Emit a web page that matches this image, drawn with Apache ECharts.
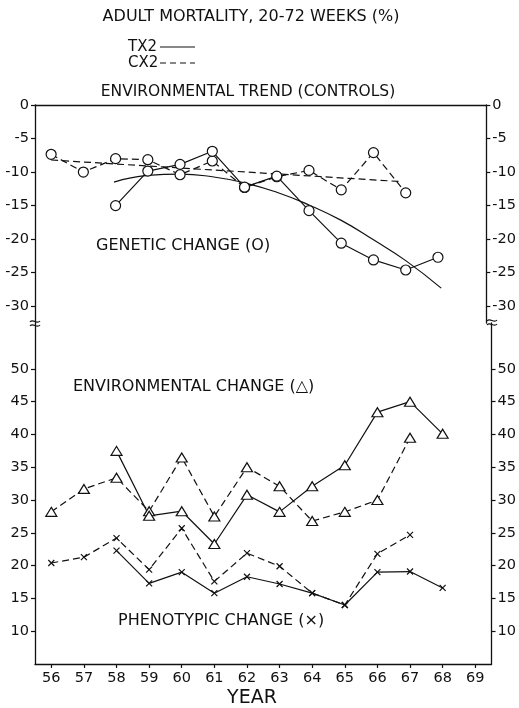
<!DOCTYPE html>
<html>
<head>
<meta charset="utf-8">
<script src="https://cdn.jsdelivr.net/npm/echarts@6/dist/echarts.min.js"></script>
<style>
  html, body { margin: 0; padding: 0; background: #fff; }
  #chart { width: 519px; height: 708px; }
</style>
</head>
<body>
<div id="chart"></div>
<script>
// years on the x axis (19xx)
var years = [56, 57, 58, 59, 60, 61, 62, 63, 64, 65, 66, 67, 68];
var yearTicks = [56, 57, 58, 59, 60, 61, 62, 63, 64, 65, 66, 67, 68, 69];

// genetic change (circles), upper panel
var genTX2 = [null, null, -15, -9.85, -8.85, -6.9, -12.25, -10.6, -15.75, -20.6, -23.1, -24.6, -22.7];
var genCX2 = [-7.35, -10, -8, -8.15, -10.4, -8.35, -12.3, -10.7, -9.75, -12.65, -7.1, -13.1, null];

// fitted trends of genetic change
var trendTX2Years = [57.95, 59, 60, 61, 62, 63, 64, 65, 66, 67, 68.1];
var trendTX2 = [-11.5, -10.5, -10.3, -10.7, -11.6, -13.0, -14.9, -17.2, -20.1, -23.2, -27.3];
var trendCX2Years = [56, 66.8];
var trendCX2 = [-8.2, -11.4];

// environmental change (triangles), lower panel
var envTX2 = [null, null, 37.5, 27.6, 28.3, 23.3, 30.8, 28.2, 32.1, 35.3, 43.4, 45.0, 40.1];
var envCX2 = [28.2, 31.7, 33.4, 28.3, 36.5, 27.5, 35.0, 32.1, 26.8, 28.2, 30.0, 39.5, null];

// phenotypic change (crosses), lower panel
var phenTX2 = [null, null, 22.3, 17.3, 19.0, 15.8, 18.3, 17.2, 15.8, 14.0, 19.0, 19.1, 16.6];
var phenCX2 = [20.4, 21.3, 24.2, 19.4, 25.7, 17.6, 21.9, 19.9, 15.8, 14.0, 21.8, 24.7, null];

var upperTicks = [0, -5, -10, -15, -20, -25, -30];
var lowerTicks = [10, 15, 20, 25, 30, 35, 40, 45, 50];

var INK = '#111';
var FONT = 'DejaVu Sans';

function pairs(xs, ys) {
    var out = [];
    for (var i = 0; i < xs.length; i++) {
        if (ys[i] !== null) out.push([xs[i], ys[i]]);
    }
    return out;
}

var dash = [7, 4];
var circle = { symbol: 'circle', symbolSize: 10, itemStyle: { color: '#fff', borderColor: INK, borderWidth: 1.2 } };
var tri = { symbol: 'triangle', symbolSize: [11, 9], itemStyle: { color: '#fff', borderColor: INK, borderWidth: 1.2 } };
var cross = { symbol: 'path://M0,0L10,10M0,10L10,0', symbolSize: 6, itemStyle: { color: 'none', borderColor: INK, borderWidth: 1.2 } };

function lineSeries(name, xi, yi, data, mark, dashed, smooth) {
    var s = {
        name: name,
        type: 'line',
        xAxisIndex: xi,
        yAxisIndex: yi,
        data: data,
        animation: false,
        silent: true,
        smooth: !!smooth,
        lineStyle: { color: INK, width: 1.2, type: dashed ? dash : 'solid' }
    };
    if (mark) {
        s.symbol = mark.symbol;
        s.symbolSize = mark.symbolSize;
        s.itemStyle = mark.itemStyle;
        s.showAllSymbol = true;
    } else {
        s.symbol = 'none';
    }
    return s;
}

var axisLine = { show: true, lineStyle: { color: INK, width: 1.3 } };

function yAx(grid, pos, min, max, ticks) {
    return {
        type: 'value', gridIndex: grid, position: pos, min: min, max: max,
        axisLine: axisLine,
        axisTick: { show: true, length: 4, lineStyle: { color: INK, width: 1.2 }, customValues: ticks },
        axisLabel: { margin: 6, customValues: ticks, color: INK, fontFamily: FONT, fontSize: 14.5 },
        splitLine: { show: false }
    };
}

function txt(x, y, s, size, align) {
    return { type: 'text', x: x, y: y, style: { text: s, font: size + 'px ' + FONT, fill: INK, textAlign: align || 'left', textVerticalAlign: 'middle' } };
}

// small wavy break mark across an axis line
function breakMark(x, y) {
    return [
        { type: 'rect', shape: { x: x - 4, y: y - 4, width: 8, height: 8 }, style: { fill: '#fff' } },
        { type: 'bezierCurve', shape: { x1: x - 5, y1: y - 1, x2: x + 5, y2: y - 2, cpx1: x - 2, cpy1: y - 5, cpx2: x + 2, cpy2: y + 2 }, style: { stroke: INK, lineWidth: 1.2, fill: null } },
        { type: 'bezierCurve', shape: { x1: x - 5, y1: y + 3, x2: x + 5, y2: y + 2, cpx1: x - 2, cpy1: y - 1, cpx2: x + 2, cpy2: y + 6 }, style: { stroke: INK, lineWidth: 1.2, fill: null } }
    ];
}

var chart = echarts.init(document.getElementById('chart'));
var option = {
    backgroundColor: '#fff',
    animation: false,
    grid: [
        { left: 35, right: 27, top: 105, height: 218 },
        { left: 35, right: 27, top: 323, height: 341 }
    ],
    xAxis: [
        {
            type: 'value', gridIndex: 0, position: 'top', min: 55.5, max: 69.5,
            axisLine: axisLine, axisTick: { show: false }, axisLabel: { show: false }, splitLine: { show: false }
        },
        {
            type: 'value', gridIndex: 1, position: 'bottom', min: 55.5, max: 69.5,
            axisLine: axisLine,
            axisTick: { show: true, length: 4, lineStyle: { color: INK, width: 1.2 }, customValues: yearTicks },
            axisLabel: { margin: 7, customValues: yearTicks, color: INK, fontFamily: FONT, fontSize: 14.5 },
            splitLine: { show: false }
        }
    ],
    yAxis: [
        yAx(0, 'left', -32.5, 0, upperTicks),
        yAx(0, 'right', -32.5, 0, upperTicks),
        yAx(1, 'left', 5, 57, lowerTicks),
        yAx(1, 'right', 5, 57, lowerTicks)
    ],
    series: [
        lineSeries('trend TX2', 0, 0, pairs(trendTX2Years, trendTX2), null, false, true),
        lineSeries('trend CX2', 0, 0, pairs(trendCX2Years, trendCX2), null, true),
        lineSeries('genetic CX2', 0, 0, pairs(years, genCX2), circle, true),
        lineSeries('genetic TX2', 0, 0, pairs(years, genTX2), circle, false),
        lineSeries('environmental CX2', 1, 2, pairs(years, envCX2), tri, true),
        lineSeries('environmental TX2', 1, 2, pairs(years, envTX2), tri, false),
        lineSeries('phenotypic CX2', 1, 2, pairs(years, phenCX2), cross, true),
        lineSeries('phenotypic TX2', 1, 2, pairs(years, phenTX2), cross, false)
    ],
    graphic: [
        txt(251, 17, 'ADULT MORTALITY, 20-72 WEEKS (%)', 16, 'center'),
        txt(128, 47, 'TX2', 15),
        { type: 'line', shape: { x1: 160, y1: 47, x2: 195, y2: 47 }, style: { stroke: INK, lineWidth: 1.2 } },
        txt(128, 63, 'CX2', 15),
        { type: 'line', shape: { x1: 160, y1: 63, x2: 195, y2: 63 }, style: { stroke: INK, lineWidth: 1.2, lineDash: [6, 4] } },
        txt(248, 92, 'ENVIRONMENTAL TREND (CONTROLS)', 15.5, 'center'),
        txt(96, 246, 'GENETIC CHANGE (O)', 16),
        txt(73, 387, 'ENVIRONMENTAL CHANGE (△)', 16),
        txt(118, 621, 'PHENOTYPIC CHANGE (×)', 16),
        txt(252, 698, 'YEAR', 19, 'center')
    ].concat(breakMark(35, 323), breakMark(492, 322))
};
chart.setOption(option);
</script>
</body>
</html>
